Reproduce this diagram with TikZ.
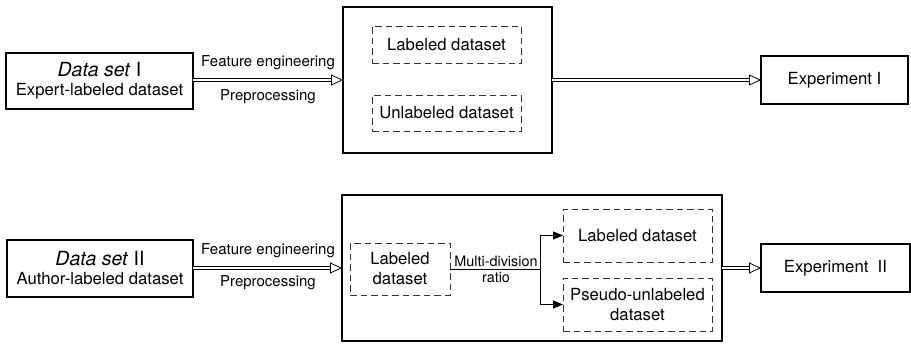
\documentclass[tikz,border=0pt]{standalone}
\usepackage{fontspec}
\setmainfont{TeX Gyre Heros}
\usetikzlibrary{arrows.meta}
\begin{document}
\begin{tikzpicture}[x=1pt,y=-1pt,
  boxfont/.style={font=\fontsize{16.7}{20}\selectfont},
  thickbox/.style={draw, line width=2pt, inner sep=0pt, outer sep=0pt, align=center, boxfont},
  dashbox/.style={draw=black!80, line width=1pt, dash pattern=on 6.5pt off 4pt, inner sep=0pt, outer sep=0pt, align=center, boxfont},
  edgelbl/.style={font=\fontsize{15}{18}\selectfont, inner sep=0pt},
  smalllbl/.style={font=\fontsize{14.4}{16}\selectfont, inner sep=0pt},
  dblshaft/.style={double, double distance=2.2pt, line width=0.8pt, shorten >=11pt},
  openhead/.style={line width=0.8pt, -{Triangle[open, length=12pt, width=11pt]}},
  splitline/.style={line width=1pt},
  fillhead/.style={line width=1pt, -{Triangle[length=10pt, width=8pt]}}
]
\useasboundingbox (0,0) rectangle (911,343);

% ---------- top row ----------
\node[thickbox, minimum width=187pt, minimum height=56pt] (d1) at (99.5,81)
  {{\fontsize{19.5}{21}\selectfont\itshape Data set\/ \upshape I}\\[-1pt]Expert-labeled dataset};
\node[thickbox, minimum width=209pt, minimum height=146pt] (b1) at (447.5,80) {};
\node[dashbox, minimum width=149pt, minimum height=37pt] (l1) at (446.5,44.5) {Labeled dataset};
\node[dashbox, minimum width=149pt, minimum height=36pt] (u1) at (446.5,113) {Unlabeled dataset};
\node[thickbox, minimum width=147pt, minimum height=48pt] (e1) at (834.5,80) {Experiment I};

\draw[dblshaft] (d1.east |- b1.west) -- (b1.west);
\draw[openhead] ([xshift=-12pt]b1.west) -- (b1.west);
\node[edgelbl] (fe1) at (268,63) {Feature engineering};
\node[edgelbl] (pp1) at (268,97) {Preprocessing};

\draw[dblshaft] (b1.east) -- (e1.west);
\draw[openhead] ([xshift=-12pt]e1.west) -- (e1.west);

% ---------- bottom row ----------
\node[thickbox, minimum width=186pt, minimum height=57pt] (d2) at (100,268.5)
  {{\fontsize{19.5}{21}\selectfont\itshape Data set\/ \upshape II}\\[-1pt]Author-labeled dataset};
\node[thickbox, minimum width=380pt, minimum height=146pt] (b2) at (532,268) {};
\node[dashbox, minimum width=100pt, minimum height=52pt] (l2) at (400,269) {Labeled\\dataset};
\node[dashbox, minimum width=149pt, minimum height=53pt] (r1) at (637.5,235.5) {Labeled dataset};
\node[dashbox, minimum width=149pt, minimum height=53pt] (r2) at (637.5,304.5) {Pseudo-unlabeled\\dataset};
\node[thickbox, minimum width=149pt, minimum height=48pt] (e2) at (835.5,268) {Experiment\ \ II};

\draw[dblshaft] (d2.east |- b2.west) -- (b2.west);
\draw[openhead] ([xshift=-12pt]b2.west) -- (b2.west);
\node[edgelbl] (fe2) at (268,251) {Feature engineering};
\node[edgelbl] (pp2) at (268,283) {Preprocessing};

\coordinate (sp) at (540,269);
\draw[splitline] (l2.east) -- (sp);
\draw[fillhead] (sp) |- (r1.west);
\draw[fillhead] (sp) |- (r2.west);
\node[smalllbl] (md) at (496,261) {Multi-division};
\node[smalllbl] (ra) at (496,278) {ratio};

\draw[dblshaft] (b2.east) -- (e2.west);
\draw[openhead] ([xshift=-12pt]e2.west) -- (e2.west);
\end{tikzpicture}
\end{document}
